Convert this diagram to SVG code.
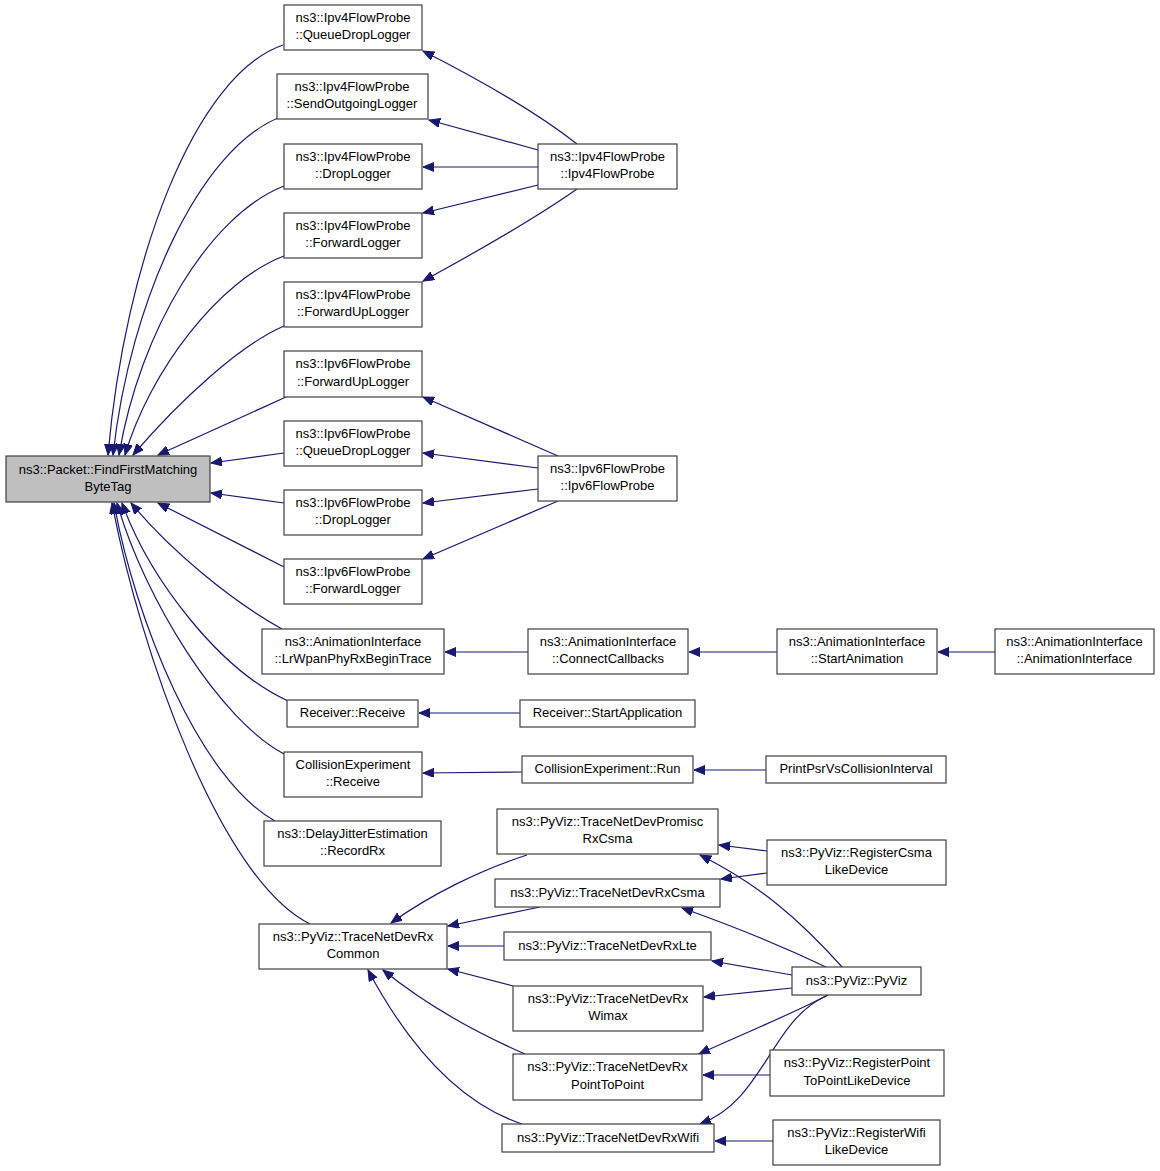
<svg xmlns="http://www.w3.org/2000/svg" width="1160" height="1171" viewBox="0 0 1160 1171">
<style>
.n rect{fill:#ffffff;stroke:#404040;stroke-width:1.2}
.n.m rect{fill:#bfbfbf}
text{font-family:"Liberation Sans",Arial,Helvetica,sans-serif;font-size:13px;text-anchor:middle;fill:#000}
#edges path{fill:none;stroke:#191970;stroke-width:1.2;marker-end:url(#ah)}
</style>
<defs>
<marker id="ah" markerUnits="userSpaceOnUse" markerWidth="12" markerHeight="10" refX="11" refY="4.5" orient="auto">
<path d="M0,0 L11,4.5 L0,9 z" fill="#191970" stroke="#191970" stroke-width="1"/>
</marker>
</defs>
<rect width="1160" height="1171" fill="#ffffff"/>
<g id="edges">
<path d="M283,45 C195,75 125,260 108,455"/>
<path d="M278,118 C200,150 130,300 113,455"/>
<path d="M284,186 C210,215 140,330 119,455"/>
<path d="M284,256 C220,280 150,370 125,455"/>
<path d="M284,326 C240,345 180,400 133,455"/>
<path d="M286,397 L158,455"/>
<path d="M284,453 L211,463"/>
<path d="M284,503 L211,493"/>
<path d="M284,567 L158,503"/>
<path d="M282,629 C230,600 170,550 131,503"/>
<path d="M288,701 C220,670 150,580 122,503"/>
<path d="M284,754 C220,720 145,600 117,503"/>
<path d="M275,821 C200,780 135,620 114,503"/>
<path d="M310,924 C220,880 140,650 112,503"/>
<path d="M577,144 C540,115 480,80 423,51"/>
<path d="M538,150 L429,120"/>
<path d="M538,167 L423,167"/>
<path d="M538,185 L423,213"/>
<path d="M577,189 C540,215 480,250 423,281"/>
<path d="M558,456 L423,397"/>
<path d="M538,468 L423,453"/>
<path d="M538,489 L423,503"/>
<path d="M558,501 L423,559"/>
<path d="M528,652 L445,652"/>
<path d="M777,652 L689,652"/>
<path d="M995,652 L938,652"/>
<path d="M520,713 L419,713"/>
<path d="M522,772 L423,773"/>
<path d="M766,770 L694,770"/>
<path d="M527,855 C480,870 430,895 391,923"/>
<path d="M540,907 L448,926"/>
<path d="M504,946 L448,946"/>
<path d="M513,986 L448,969"/>
<path d="M525,1054 C470,1030 420,1000 383,970"/>
<path d="M522,1124 C450,1100 400,1030 368,970"/>
<path d="M767,851 L719,845"/>
<path d="M767,873 L721,879"/>
<path d="M843,968 C800,920 760,885 700,855"/>
<path d="M828,968 C780,945 730,925 682,908"/>
<path d="M792,975 L712,961"/>
<path d="M792,988 L704,997"/>
<path d="M828,995 C790,1015 740,1035 699,1054"/>
<path d="M828,995 C770,1020 765,1100 700,1124"/>
<path d="M770,1075 L703,1075"/>
<path d="M773,1141 L715,1141"/>
</g>
<g id="main" class="n m"><rect x="6" y="456" width="204" height="46"/><text x="108" y="474">ns3::Packet::FindFirstMatching</text><text x="108" y="491">ByteTag</text></g>
<g id="q4" class="n"><rect x="284" y="5" width="138" height="45"/><text x="353" y="22">ns3::Ipv4FlowProbe</text><text x="353" y="39">::QueueDropLogger</text></g>
<g id="s4" class="n"><rect x="277" y="74" width="151" height="45"/><text x="352" y="91">ns3::Ipv4FlowProbe</text><text x="352" y="108">::SendOutgoingLogger</text></g>
<g id="d4" class="n"><rect x="284" y="144" width="138" height="45"/><text x="353" y="161">ns3::Ipv4FlowProbe</text><text x="353" y="178">::DropLogger</text></g>
<g id="f4" class="n"><rect x="284" y="213" width="138" height="45"/><text x="353" y="230">ns3::Ipv4FlowProbe</text><text x="353" y="247">::ForwardLogger</text></g>
<g id="fu4" class="n"><rect x="284" y="282" width="138" height="45"/><text x="353" y="299">ns3::Ipv4FlowProbe</text><text x="353" y="316">::ForwardUpLogger</text></g>
<g id="fu6" class="n"><rect x="284" y="351" width="138" height="46"/><text x="353" y="368">ns3::Ipv6FlowProbe</text><text x="353" y="386">::ForwardUpLogger</text></g>
<g id="q6" class="n"><rect x="284" y="421" width="138" height="45"/><text x="353" y="438">ns3::Ipv6FlowProbe</text><text x="353" y="455">::QueueDropLogger</text></g>
<g id="d6" class="n"><rect x="284" y="490" width="138" height="45"/><text x="353" y="507">ns3::Ipv6FlowProbe</text><text x="353" y="524">::DropLogger</text></g>
<g id="f6" class="n"><rect x="284" y="559" width="138" height="45"/><text x="353" y="576">ns3::Ipv6FlowProbe</text><text x="353" y="593">::ForwardLogger</text></g>
<g id="lr" class="n"><rect x="262" y="629" width="182" height="45"/><text x="353" y="646">ns3::AnimationInterface</text><text x="353" y="663">::LrWpanPhyRxBeginTrace</text></g>
<g id="rr" class="n"><rect x="287" y="700" width="131" height="27"/><text x="352.5" y="717">Receiver::Receive</text></g>
<g id="cr" class="n"><rect x="284" y="752" width="138" height="45"/><text x="353" y="769">CollisionExperiment</text><text x="353" y="786">::Receive</text></g>
<g id="dj" class="n"><rect x="264" y="821" width="177" height="45"/><text x="352.5" y="838">ns3::DelayJitterEstimation</text><text x="352.5" y="855">::RecordRx</text></g>
<g id="tc" class="n"><rect x="259" y="924" width="188" height="45"/><text x="353" y="941">ns3::PyViz::TraceNetDevRx</text><text x="353" y="958">Common</text></g>
<g id="p4" class="n"><rect x="538" y="144" width="139" height="45"/><text x="607.5" y="161">ns3::Ipv4FlowProbe</text><text x="607.5" y="178">::Ipv4FlowProbe</text></g>
<g id="p6" class="n"><rect x="538" y="456" width="139" height="45"/><text x="607.5" y="473">ns3::Ipv6FlowProbe</text><text x="607.5" y="490">::Ipv6FlowProbe</text></g>
<g id="cc" class="n"><rect x="528" y="629" width="160" height="45"/><text x="608" y="646">ns3::AnimationInterface</text><text x="608" y="663">::ConnectCallbacks</text></g>
<g id="sa" class="n"><rect x="520" y="700" width="175" height="27"/><text x="607.5" y="717">Receiver::StartApplication</text></g>
<g id="run" class="n"><rect x="522" y="756" width="171" height="27"/><text x="607.5" y="773">CollisionExperiment::Run</text></g>
<g id="st" class="n"><rect x="777" y="629" width="160" height="45"/><text x="857" y="646">ns3::AnimationInterface</text><text x="857" y="663">::StartAnimation</text></g>
<g id="ai" class="n"><rect x="995" y="629" width="159" height="45"/><text x="1074.5" y="646">ns3::AnimationInterface</text><text x="1074.5" y="663">::AnimationInterface</text></g>
<g id="pp" class="n"><rect x="766" y="756" width="180" height="27"/><text x="856" y="773">PrintPsrVsCollisionInterval</text></g>
<g id="prc" class="n"><rect x="497" y="809" width="221" height="45"/><text x="607.5" y="826">ns3::PyViz::TraceNetDevPromisc</text><text x="607.5" y="843">RxCsma</text></g>
<g id="rc" class="n"><rect x="495" y="879" width="225" height="28"/><text x="607.5" y="897">ns3::PyViz::TraceNetDevRxCsma</text></g>
<g id="rl" class="n"><rect x="504" y="932" width="207" height="28"/><text x="607.5" y="950">ns3::PyViz::TraceNetDevRxLte</text></g>
<g id="wm" class="n"><rect x="513" y="986" width="190" height="45"/><text x="608" y="1003">ns3::PyViz::TraceNetDevRx</text><text x="608" y="1020">Wimax</text></g>
<g id="ptp" class="n"><rect x="513" y="1054" width="189" height="46"/><text x="607.5" y="1071">ns3::PyViz::TraceNetDevRx</text><text x="607.5" y="1089">PointToPoint</text></g>
<g id="wf" class="n"><rect x="502" y="1124" width="212" height="28"/><text x="608" y="1142">ns3::PyViz::TraceNetDevRxWifi</text></g>
<g id="rcs" class="n"><rect x="767" y="840" width="179" height="45"/><text x="856.5" y="857">ns3::PyViz::RegisterCsma</text><text x="856.5" y="874">LikeDevice</text></g>
<g id="pv" class="n"><rect x="792" y="967" width="129" height="28"/><text x="856.5" y="985">ns3::PyViz::PyViz</text></g>
<g id="rp" class="n"><rect x="770" y="1050" width="174" height="46"/><text x="857" y="1067">ns3::PyViz::RegisterPoint</text><text x="857" y="1085">ToPointLikeDevice</text></g>
<g id="rw" class="n"><rect x="773" y="1120" width="167" height="45"/><text x="856.5" y="1137">ns3::PyViz::RegisterWifi</text><text x="856.5" y="1154">LikeDevice</text></g>
</svg>
